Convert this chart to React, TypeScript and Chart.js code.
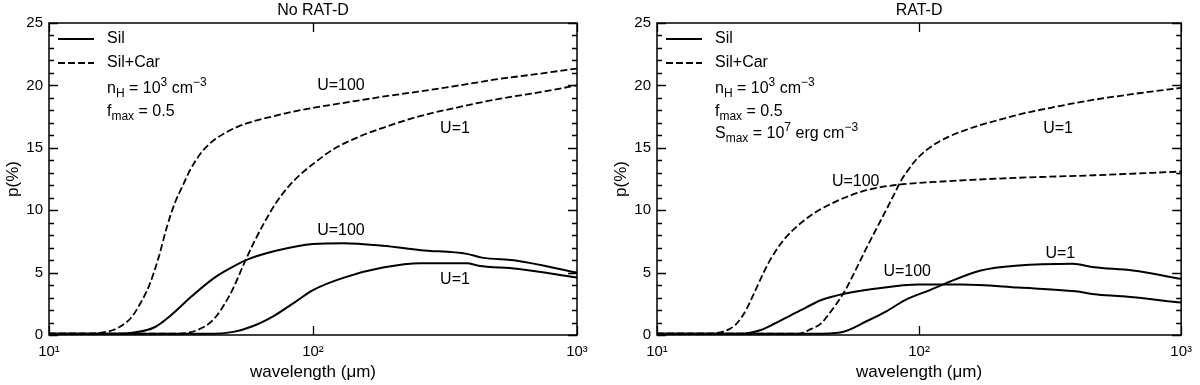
import React, { useEffect, useRef } from "react";
import { Chart, registerables } from "chart.js";

Chart.register(...registerables);

const FONT = '"Liberation Sans", Arial, Helvetica, sans-serif';

// ---------- Data (wavelength in micron, p in %) ----------
// Panel A: No RAT-D
const noRatSilCarU100X = [10, 14, 16, 17.5, 19, 20.5, 22, 24, 26, 28, 30, 32, 34, 36, 38, 40, 43, 47, 52, 60, 70, 80, 100, 140, 184, 250, 383, 500, 700, 1000];
const noRatSilCarU100Y = [0.1, 0.1, 0.2, 0.4, 0.8, 1.4, 2.4, 4.0, 6.2, 8.7, 10.6, 11.9, 13.1, 14.0, 14.7, 15.2, 15.75, 16.25, 16.7, 17.15, 17.5, 17.8, 18.2, 18.7, 19.1, 19.5, 20.1, 20.5, 20.9, 21.35];

const noRatSilCarU1X = [10, 30, 34, 37, 40, 43, 46, 50, 55, 60, 65, 72, 80, 90, 100, 120, 150, 184, 250, 383, 500, 700, 1000];
const noRatSilCarU1Y = [0.1, 0.1, 0.2, 0.45, 0.85, 1.5, 2.4, 3.8, 5.8, 7.5, 8.9, 10.5, 11.8, 12.9, 13.7, 14.9, 15.9, 16.6, 17.5, 18.4, 18.9, 19.4, 20.0];

const noRatSilU100X = [10, 18, 21, 25, 29.4, 34.7, 42.4, 50, 57.3, 72.3, 100, 131, 184, 256, 383, 437, 592, 1000];
const noRatSilU100Y = [0.1, 0.1, 0.2, 0.6, 1.7, 3.1, 4.6, 5.5, 6.1, 6.75, 7.3, 7.36, 7.15, 6.8, 6.5, 6.2, 5.95, 5.0];

const noRatSilU1X = [10, 40, 50, 59, 72, 85, 100, 131, 184, 256, 383, 423, 592, 1000];
const noRatSilU1Y = [0.1, 0.1, 0.25, 0.7, 1.6, 2.6, 3.6, 4.6, 5.4, 5.75, 5.75, 5.55, 5.3, 4.6];

// Panel B: RAT-D
const ratSilCarU100X = [10, 15, 16.7, 18, 19, 20, 21, 22, 23, 24, 25, 26, 27, 28.5, 30.4, 33, 36, 40, 45, 52, 63, 80, 123, 240, 466, 1000];
const ratSilCarU100Y = [0.1, 0.1, 0.15, 0.3, 0.5, 0.85, 1.4, 2.1, 2.95, 3.8, 4.6, 5.35, 6.0, 6.8, 7.6, 8.4, 9.1, 9.8, 10.4, 11.0, 11.6, 12.0, 12.3, 12.6, 12.8, 13.1];

const ratSilCarU1X = [10, 34.7, 38, 42.4, 45, 48.4, 52, 55.4, 63.1, 72.3, 80, 85, 90, 97, 105, 115, 130, 145, 170, 203, 250, 335, 450, 650, 1000];
const ratSilCarU1Y = [0.1, 0.1, 0.4, 0.95, 1.6, 2.5, 3.5, 4.6, 7.0, 9.4, 11.2, 12.3, 13.1, 14.0, 14.7, 15.3, 15.9, 16.3, 16.8, 17.25, 17.75, 18.3, 18.8, 19.3, 19.8];

const ratSilU100X = [10, 21, 24.9, 28, 32.5, 37, 42.4, 51.8, 67.6, 100, 145, 240, 396, 466, 600, 1000];
const ratSilU100Y = [0.1, 0.1, 0.4, 0.9, 1.6, 2.2, 2.8, 3.3, 3.7, 4.04, 4.04, 3.8, 3.5, 3.27, 3.1, 2.6];

const ratSilU1X = [10, 39.6, 50, 63, 75, 88.4, 110, 125, 172, 240, 384, 466, 654, 1000];
const ratSilU1Y = [0.1, 0.1, 0.2, 1.1, 1.9, 2.8, 3.6, 4.1, 5.17, 5.57, 5.7, 5.43, 5.17, 4.5];

// Axis tick labels
const xTickValues = [10, 100, 1000];
const xTickLabels = ["10\u00B9", "10\u00B2", "10\u00B3"];
const yTickStep = 5;

const panelTitles = ["No RAT-D", "RAT-D"];
const legendLabels = ["Sil", "Sil+Car"];

type Seg = { t: string; k?: "sub" | "sup" };

const paramTextA: Seg[][] = [
  [{ t: "n" }, { t: "H", k: "sub" }, { t: " = 10" }, { t: "3", k: "sup" }, { t: " cm" }, { t: "\u22123", k: "sup" }],
  [{ t: "f" }, { t: "max", k: "sub" }, { t: " = 0.5" }],
];
const paramTextB: Seg[][] = [
  ...paramTextA,
  [{ t: "S" }, { t: "max", k: "sub" }, { t: " = 10" }, { t: "7", k: "sup" }, { t: " erg cm" }, { t: "\u22123", k: "sup" }],
];

// curve labels: [text, wavelength, p]
const labelsA: [string, number, number][] = [
  ["U=100", 127.6, 20.0],
  ["U=1", 345, 16.5],
  ["U=100", 127.6, 8.4],
  ["U=1", 345, 4.4],
];
const labelsB: [string, number, number][] = [
  ["U=1", 339, 16.5],
  ["U=100", 57.3, 12.3],
  ["U=1", 346, 6.5],
  ["U=100", 90.1, 5.05],
];

function zip(xs: number[], ys: number[]) {
  return xs.map((x, i) => ({ x, y: ys[i] }));
}

function drawRich(ctx: CanvasRenderingContext2D, segs: Seg[], x: number, y: number, size: number) {
  let cx = x;
  ctx.textAlign = "left";
  ctx.textBaseline = "middle";
  for (const s of segs) {
    const sz = s.k ? Math.round(size * 0.72) : size;
    ctx.font = `${sz}px ${FONT}`;
    const dy = s.k === "sub" ? size * 0.32 : s.k === "sup" ? -size * 0.38 : 0;
    ctx.fillText(s.t, cx, y + dy);
    cx += ctx.measureText(s.t).width;
  }
}

const decoPlugin = {
  id: "deco",
  afterDatasetsDraw(chart: any, _args: any, opts: any) {
    const { ctx, chartArea: a, scales } = chart;
    const xs = scales.x;
    const ys = scales.y;
    ctx.save();
    ctx.strokeStyle = "#000";
    ctx.fillStyle = "#000";
    // frame
    ctx.lineWidth = 1.5;
    ctx.strokeRect(a.left, a.top, a.right - a.left, a.bottom - a.top);
    // inward ticks on all four sides
    ctx.lineWidth = 1.3;
    ctx.beginPath();
    for (const t of xs.ticks) {
      const v = t.value;
      if (v < 10 || v > 1000) continue;
      const lg = Math.log10(v);
      const major = Math.abs(lg - Math.round(lg)) < 1e-6;
      const px = Math.round(xs.getPixelForValue(v)) + 0.5;
      const len = major ? 9 : 5;
      ctx.moveTo(px, a.bottom);
      ctx.lineTo(px, a.bottom - len);
      ctx.moveTo(px, a.top);
      ctx.lineTo(px, a.top + len);
    }
    for (let v = 0; v <= 25; v += 1) {
      const py = Math.round(ys.getPixelForValue(v)) + 0.5;
      const len = v % yTickStep === 0 ? 9 : 5;
      ctx.moveTo(a.left, py);
      ctx.lineTo(a.left + len, py);
      ctx.moveTo(a.right, py);
      ctx.lineTo(a.right - len, py);
    }
    ctx.stroke();

    // title
    ctx.font = `16px ${FONT}`;
    ctx.textAlign = "center";
    ctx.textBaseline = "middle";
    ctx.fillText(opts.title, (a.left + a.right) / 2, a.top - 12);

    // legend
    const lx0 = a.left + 9;
    const lx1 = a.left + 45;
    const tx = a.left + 58;
    ctx.lineWidth = 2;
    ctx.setLineDash([]);
    ctx.beginPath();
    ctx.moveTo(lx0, a.top + 16);
    ctx.lineTo(lx1, a.top + 16);
    ctx.stroke();
    ctx.lineWidth = 1.8;
    ctx.setLineDash([7, 3]);
    ctx.beginPath();
    ctx.moveTo(lx0, a.top + 40);
    ctx.lineTo(lx1, a.top + 40);
    ctx.stroke();
    ctx.setLineDash([]);
    ctx.font = `16px ${FONT}`;
    ctx.textAlign = "left";
    ctx.fillText(legendLabels[0], tx, a.top + 16);
    ctx.fillText(legendLabels[1], tx, a.top + 40);
    const params: Seg[][] = opts.params;
    params.forEach((segs, i) => {
      drawRich(ctx, segs, tx, a.top + 66 + i * 22.5, 16);
    });

    // curve labels
    ctx.font = `16px ${FONT}`;
    ctx.textAlign = "center";
    ctx.textBaseline = "middle";
    for (const [t, x, y] of opts.labels as [string, number, number][]) {
      ctx.fillText(t, xs.getPixelForValue(x), ys.getPixelForValue(y));
    }
    ctx.restore();
  },
};

function makeDatasets(su100: any[], su1: any[], cu100: any[], cu1: any[]) {
  const solid = { borderColor: "#000", borderWidth: 2, pointRadius: 0, fill: false, cubicInterpolationMode: "monotone" as const };
  const dashed = { ...solid, borderWidth: 1.8, borderDash: [7, 3] };
  return [
    { label: "Sil U=100", data: su100, ...solid },
    { label: "Sil U=1", data: su1, ...solid },
    { label: "Sil+Car U=100", data: cu100, ...dashed },
    { label: "Sil+Car U=1", data: cu1, ...dashed },
  ];
}

function makeConfig(panel: number): any {
  const isA = panel === 0;
  const datasets = isA
    ? makeDatasets(zip(noRatSilU100X, noRatSilU100Y), zip(noRatSilU1X, noRatSilU1Y), zip(noRatSilCarU100X, noRatSilCarU100Y), zip(noRatSilCarU1X, noRatSilCarU1Y))
    : makeDatasets(zip(ratSilU100X, ratSilU100Y), zip(ratSilU1X, ratSilU1Y), zip(ratSilCarU100X, ratSilCarU100Y), zip(ratSilCarU1X, ratSilCarU1Y));
  const yWidth = isA ? 49 : 57;
  const rightPad = isA ? 23 : 15;
  return {
    type: "line",
    data: { datasets },
    options: {
      animation: false,
      responsive: false,
      maintainAspectRatio: false,
      devicePixelRatio: 1,
      layout: { padding: { top: 23, right: rightPad, left: 0, bottom: 0 } },
      plugins: {
        legend: { display: false },
        tooltip: { enabled: false },
        title: { display: false },
        deco: { title: panelTitles[panel], params: isA ? paramTextA : paramTextB, labels: isA ? labelsA : labelsB },
      },
      scales: {
        x: {
          type: "logarithmic",
          min: 10,
          max: 1000,
          grid: { display: false, drawTicks: false },
          border: { display: false },
          ticks: {
            autoSkip: false,
            maxRotation: 0,
            padding: 8,
            color: "#000",
            font: { family: FONT, size: 15 },
            callback: (v: number) => {
              const i = xTickValues.indexOf(Number(v));
              return i >= 0 ? xTickLabels[i] : null;
            },
          },
          title: {
            display: true,
            text: "wavelength (\u03BCm)",
            color: "#000",
            font: { family: FONT, size: 17 },
            padding: { top: 0, bottom: 2 },
          },
          afterFit: (s: any) => {
            s.height = 50;
          },
        },
        y: {
          min: 0,
          max: 25,
          grid: { display: false, drawTicks: false },
          border: { display: false },
          ticks: {
            stepSize: yTickStep,
            padding: 6,
            color: "#000",
            font: { family: FONT, size: 15 },
          },
          title: {
            display: true,
            text: "p(%)",
            color: "#000",
            font: { family: FONT, size: 17 },
            padding: { top: isA ? 3 : 11, bottom: 0 },
          },
          afterFit: (s: any) => {
            s.width = yWidth;
          },
        },
      },
    },
    plugins: [decoPlugin],
  };
}

function Panel({ panel, left }: { panel: number; left: number }) {
  const ref = useRef<HTMLCanvasElement | null>(null);
  useEffect(() => {
    if (!ref.current) return;
    const chart = new Chart(ref.current, makeConfig(panel));
    return () => chart.destroy();
  }, [panel]);
  return (
    <canvas
      ref={ref}
      width={600}
      height={385}
      style={{ position: "absolute", left, top: 0, width: 600, height: 385 }}
    />
  );
}

export default function App() {
  return (
    <div style={{ position: "fixed", left: 0, top: 0, width: 1200, height: 385, background: "#fff" }}>
      <Panel panel={0} left={0} />
      <Panel panel={1} left={600} />
    </div>
  );
}
